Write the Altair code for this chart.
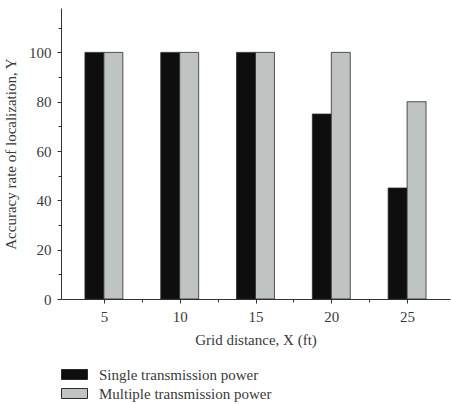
import altair as alt
import pandas as pd

# Grid spacing (ft) and localization accuracy (%) for each method
grid_distance = [5, 10, 15, 20, 25]
single_power = [100, 100, 100, 75, 45]
multiple_power = [100, 100, 100, 100, 80]
series_names = ["Single transmission power", "Multiple transmission power"]
series_colors = ["#0e0e0e", "#bfc4c2"]

x_major = [5, 10, 15, 20, 25]
x_minor = [7.5, 12.5, 17.5, 22.5]
y_major = [0, 20, 40, 60, 80, 100]
y_minor = [10, 30, 50, 70, 90, 110]

rows = []
for x, s, m in zip(grid_distance, single_power, multiple_power):
    rows.append({"X": x, "series": series_names[0], "order": 0, "Y": s})
    rows.append({"X": x, "series": series_names[1], "order": 1, "Y": m})
df = pd.DataFrame(rows)

FONT = "Liberation Serif"
TXT = "#3a3a3a"
BAR_W = 1.25

x_scale = alt.Scale(domain=[2.5, 27.5], nice=False, zero=False)
y_scale = alt.Scale(domain=[0, 118], nice=False)

base = alt.Chart(df).transform_calculate(
    x0=f"datum.X + (datum.order - 1) * {BAR_W}",
    x1=f"datum.X + datum.order * {BAR_W}",
)

bars = base.mark_bar(stroke="#2a2a2a", strokeWidth=0.8).encode(
    x=alt.X(
        "x0:Q",
        scale=x_scale,
        axis=alt.Axis(
            values=x_major,
            title="Grid distance, X (ft)",
            orient="bottom",
            tickSize=4,
            labelPadding=6,
            titlePadding=8,
            grid=False,
        ),
    ),
    x2="x1:Q",
    y=alt.Y(
        "Y:Q",
        scale=y_scale,
        axis=alt.Axis(
            values=y_major,
            title="Accuracy rate of localization, Y",
            orient="left",
            tickSize=4,
            labelPadding=6,
            titlePadding=10,
            grid=False,
        ),
    ),
    y2=alt.datum(0),
    fill=alt.Fill(
        "series:N",
        scale=alt.Scale(domain=series_names, range=series_colors),
        legend=alt.Legend(
            title=None,
            orient="none",
            legendX=3,
            legendY=356,
            # wide flat swatch: 26 x 10 px drawn inside a 20 px layout cell
            symbolType="M-1.3,-0.5L1.3,-0.5L1.3,0.5L-1.3,0.5Z",
            symbolSize=400,
            symbolStrokeColor="#2a2a2a",
            symbolStrokeWidth=1,
            labelFont=FONT,
            labelFontSize=15,
            labelColor=TXT,
            labelOffset=14,
            rowPadding=0,
            labelLimit=400,
        ),
    ),
)

# Unlabelled minor ticks between the major ones
minor = base.mark_bar(opacity=0).encode(
    x=alt.X(
        "x0:Q",
        scale=x_scale,
        axis=alt.Axis(
            values=x_minor,
            labels=False,
            title=None,
            orient="bottom",
            tickSize=3,
            domain=False,
            grid=False,
        ),
    ),
    y=alt.Y(
        "Y:Q",
        scale=y_scale,
        axis=alt.Axis(
            values=y_minor,
            labels=False,
            title=None,
            orient="left",
            tickSize=3,
            domain=False,
            grid=False,
        ),
    ),
)

chart = (
    alt.layer(bars, minor)
    .resolve_axis(x="independent", y="independent")
    .properties(
        width=389,
        height=291,
        autosize=alt.AutoSizeParams(type="none"),
        padding={"left": 61, "top": 8, "right": 1, "bottom": 105},
    )
    .configure_view(stroke=None)
    .configure_axis(
        labelFont=FONT,
        titleFont=FONT,
        labelFontSize=15,
        titleFontSize=15,
        titleFontWeight="normal",
        labelColor=TXT,
        titleColor=TXT,
        domainColor="#333333",
        tickColor="#333333",
        domainWidth=1,
        tickWidth=1,
    )
)

chart.save("out.html", embed_options={"renderer": "svg", "actions": False})
